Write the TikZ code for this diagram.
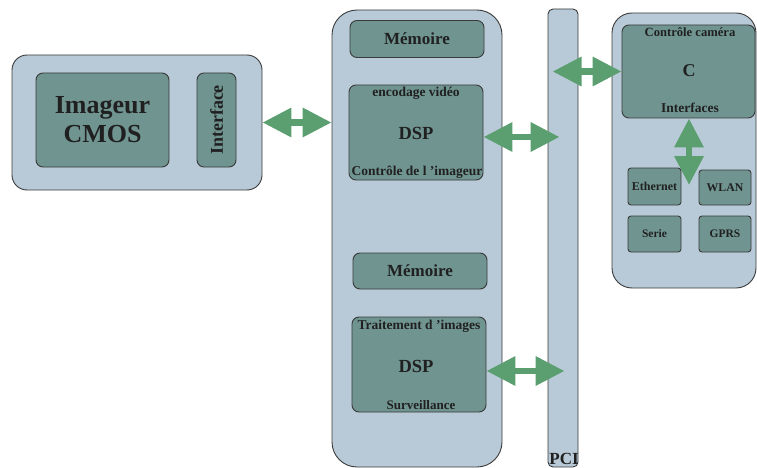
\documentclass[tikz,border=0pt]{standalone}
\usepackage{fontspec}
\setmainfont{Liberation Serif}
\usetikzlibrary{arrows.meta}
\definecolor{outerfill}{HTML}{B8CAD7}
\definecolor{innerfill}{HTML}{709591}
\definecolor{arrowgreen}{HTML}{5B9E70}
\definecolor{edge}{HTML}{3A3A3A}
\definecolor{txt}{HTML}{202020}
\newcommand{\fs}[1]{\fontsize{#1}{#1}\selectfont\bfseries}
\tikzset{
  outerbox/.style={draw=edge, line width=0.9pt, fill=outerfill, inner sep=0pt},
  innerbox/.style={draw=edge, line width=0.9pt, fill=innerfill, inner sep=0pt, rounded corners=7pt, text=txt},
  lbl/.style={inner sep=0pt, text=txt},
  dblarrow/.style={draw=arrowgreen, line width=6.5pt,
    {Triangle[length=29pt,width=28pt]}-{Triangle[length=29pt,width=28pt]}},
}
\begin{document}
\begin{tikzpicture}[x=1pt,y=-1pt]
\useasboundingbox (0,0) rectangle (757,468);
% left block
\node[outerbox, rounded corners=15pt, minimum width=250pt, minimum height=135pt] (left) at (137,122.5) {};
\node[innerbox, minimum width=133pt, minimum height=94pt, align=center, font=\fs{26}] (cmos) at (102.5,120) {Imageur\\[3pt]CMOS};
\node[innerbox, minimum width=39pt, minimum height=94pt] (iface) at (216.5,120) {};
\node[lbl, rotate=90, font=\fs{18}] (ifacetxt) at (iface.center) {Interface};
% middle block
\node[outerbox, rounded corners=25pt, minimum width=170pt, minimum height=457pt] (mid) at (417,238.5) {};
\node[innerbox, minimum width=134pt, minimum height=37pt, font=\fs{17}] (mem1) at (417,39) {Mémoire};
\node[innerbox, minimum width=134pt, minimum height=95pt] (dsp1) at (416,132.5) {};
\node[lbl, font=\fs{13.5}] (enc) at (416,93) {encodage vidéo};
\node[lbl, font=\fs{18.5}] (dsp1t) at (416,133) {DSP};
\node[lbl, font=\fs{13.5}] (ctl) at (417,172.5) {Contrôle de l ’imageur};
\node[innerbox, minimum width=134pt, minimum height=36pt, font=\fs{17}] (mem2) at (420,271) {Mémoire};
\node[innerbox, minimum width=134pt, minimum height=95pt] (dsp2) at (419,364.5) {};
\node[lbl, font=\fs{13.5}] (trt) at (419,326) {Traitement d ’images};
\node[lbl, font=\fs{18.5}] (dsp2t) at (416,366) {DSP};
\node[lbl, font=\fs{13}] (surv) at (421,405) {Surveillance};
% PCI bus
\node[outerbox, rounded corners=5pt, minimum width=30pt, minimum height=458pt] (pci) at (563,238) {};
\node[lbl, font=\fs{17}] (pcit) at (564,459) {PCI};
% right block
\node[outerbox, rounded corners=20pt, minimum width=144pt, minimum height=275pt] (right) at (684,150.5) {};
\node[innerbox, minimum width=133pt, minimum height=93pt] (cbox) at (688.5,71.5) {};
\node[lbl, font=\fs{12.6}] (cc) at (690,32) {Contrôle caméra};
\node[lbl, font=\fs{18}] (ct) at (689,71) {C};
\node[lbl, font=\fs{13.5}] (ifs) at (690,108) {Interfaces};
\node[innerbox, rounded corners=3pt, minimum width=53pt, minimum height=37pt, font=\fs{12}] (eth) at (654.5,186.5) {Ethernet};
\node[innerbox, rounded corners=3pt, minimum width=52pt, minimum height=35pt, font=\fs{11.8}] (wlan) at (725,187.5) {WLAN};
\node[innerbox, rounded corners=3pt, minimum width=53pt, minimum height=36pt, font=\fs{11.5}] (serie) at (654.5,234) {Serie};
\node[innerbox, rounded corners=3pt, minimum width=52pt, minimum height=36pt, font=\fs{11.5}] (gprs) at (725,234) {GPRS};
% arrows
\coordinate (a1e) at (mid.west |- left.east);
\draw[dblarrow] (left.east) -- (a1e);
\coordinate (a2s) at ([yshift=-4.5pt]dsp1.east);
\coordinate (a2e) at ([xshift=12pt]pci.west |- a2s);
\draw[dblarrow] (a2s) -- (a2e);
\coordinate (a3s) at ([xshift=5pt]pci.west |- cbox.west);
\draw[dblarrow] (a3s) -- (cbox.west);
\coordinate (a4s) at ([yshift=-6.5pt]dsp2.east);
\coordinate (a4e) at ([xshift=17pt]pci.west |- a4s);
\draw[dblarrow] (a4s) -- (a4e);
\coordinate (a5s) at ([xshift=0.5pt]cbox.south);
\coordinate (a5e) at (a5s |- 0,185);
\draw[dblarrow] (a5s) -- (a5e);
\end{tikzpicture}
\end{document}
